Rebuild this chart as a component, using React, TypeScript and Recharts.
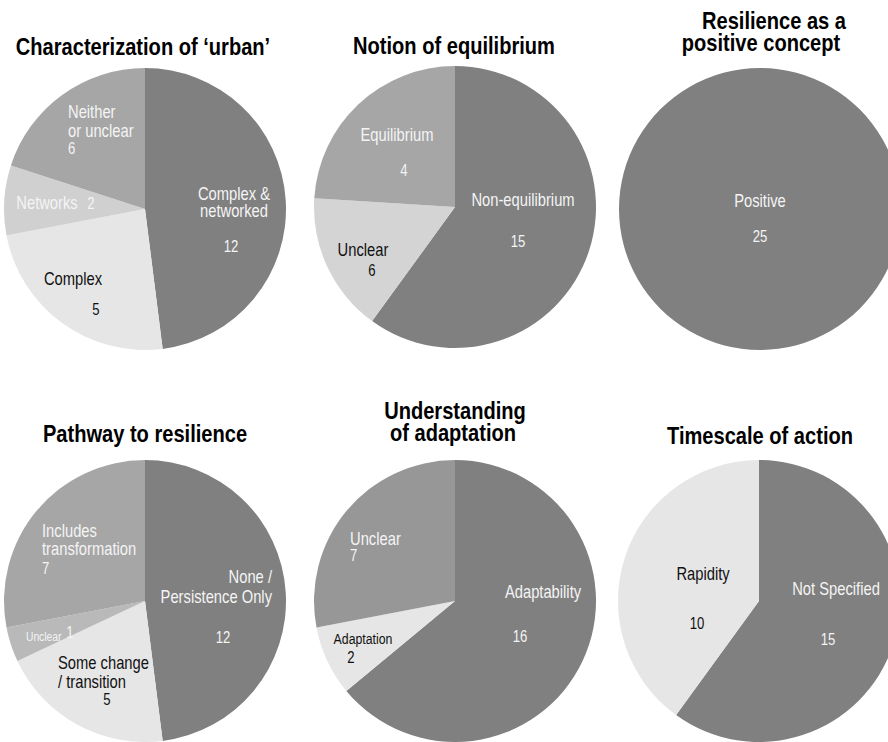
import React from 'react';
import { PieChart, Pie, Cell } from 'recharts';

// ---------- data ----------
// Slice sizes are read from the drawn wedge angles; printed counts are the numbers written on the chart.
const urbanNames = ['Complex &\nnetworked', 'Complex', 'Networks', 'Neither\nor unclear'];
const urbanSlices = [12, 6, 2, 5];
const urbanCounts = [12, 5, 2, 6];

const equilibriumNames = ['Non-equilibrium', 'Unclear', 'Equilibrium'];
const equilibriumSlices = [15, 4, 6];
const equilibriumCounts = [15, 6, 4];

const positiveNames = ['Positive'];
const positiveSlices = [25];
const positiveCounts = [25];

const pathwayNames = ['None /\nPersistence Only', 'Some change\n/ transition', 'Unclear', 'Includes\ntransformation'];
const pathwaySlices = [12, 5, 1, 7];
const pathwayCounts = [12, 5, 1, 7];

const adaptationNames = ['Adaptability', 'Adaptation', 'Unclear'];
const adaptationSlices = [16, 2, 7];
const adaptationCounts = [16, 2, 7];

const timescaleNames = ['Not Specified', 'Rapidity'];
const timescaleSlices = [15, 10];
const timescaleCounts = [15, 10];

const chartTitles = [
  ['Characterization of \u2018urban\u2019'],
  ['Notion of equilibrium'],
  ['Resilience as a', 'positive concept'],
  ['Pathway to resilience'],
  ['Understanding', 'of adaptation'],
  ['Timescale of action'],
];

// ---------- styles ----------
const FONT = "'Liberation Sans', Arial, sans-serif";
const SX = 0.82; // narrow face emulation
const WHITE = '#f4f4f4';
const BLACK = '#111111';
const DARK = '#808080';
const R = 141;

type Anchor = 'start' | 'middle' | 'end';
type LabelLayout = {
  anchor: Anchor;
  dx: number; dy: number; lh?: number; size?: number; color: string;
  vAnchor?: Anchor; vdx: number; vdy: number; vsize?: number;
};

const panels = [
  {
    names: urbanNames, slices: urbanSlices, counts: urbanCounts,
    cx: 145, cy: 209,
    colors: [DARK, '#e6e6e6', '#d0d0d0', '#a6a6a6'],
    titleX: [143], titleY: [55],
    layout: [
      { anchor: 'middle', dx: 89, dy: -9, lh: 17, color: WHITE, vdx: 86, vdy: 43 },
      { anchor: 'middle', dx: -72, dy: 76, color: BLACK, vdx: -49, vdy: 106 },
      { anchor: 'middle', dx: -98, dy: 0, color: WHITE, vdx: -54, vdy: 0 },
      { anchor: 'start', dx: -77, dy: -91, lh: 19, color: WHITE, vAnchor: 'start', vdx: -77, vdy: -55 },
    ] as LabelLayout[],
  },
  {
    names: equilibriumNames, slices: equilibriumSlices, counts: equilibriumCounts,
    cx: 455, cy: 207,
    colors: [DARK, '#d4d4d4', '#a6a6a6'],
    titleX: [454], titleY: [54],
    layout: [
      { anchor: 'middle', dx: 68, dy: -1, color: WHITE, vdx: 63, vdy: 40 },
      { anchor: 'middle', dx: -92, dy: 49, color: BLACK, vdx: -83, vdy: 69 },
      { anchor: 'middle', dx: -58, dy: -66, color: WHITE, vdx: -51, vdy: -31 },
    ] as LabelLayout[],
  },
  {
    names: positiveNames, slices: positiveSlices, counts: positiveCounts,
    cx: 760, cy: 209,
    colors: [DARK],
    titleX: [774, 761], titleY: [29, 51],
    layout: [
      { anchor: 'middle', dx: 0, dy: -2, color: WHITE, vdx: 0, vdy: 33 },
    ] as LabelLayout[],
  },
  {
    names: pathwayNames, slices: pathwaySlices, counts: pathwayCounts,
    cx: 145, cy: 601,
    colors: [DARK, '#e6e6e6', '#b9b9b9', '#a6a6a6'],
    titleX: [145], titleY: [442],
    layout: [
      { anchor: 'end', dx: 127, dy: -18, lh: 20, color: WHITE, vdx: 78, vdy: 42 },
      { anchor: 'start', dx: -87, dy: 68, lh: 19, color: BLACK, vdx: -38, vdy: 104 },
      { anchor: 'start', dx: -119, dy: 40, size: 12.5, color: WHITE, vdx: -75, vdy: 37 },
      { anchor: 'start', dx: -103, dy: -64, lh: 18, color: WHITE, vAnchor: 'start', vdx: -103, vdy: -27 },
    ] as LabelLayout[],
  },
  {
    names: adaptationNames, slices: adaptationSlices, counts: adaptationCounts,
    cx: 455, cy: 601,
    colors: [DARK, '#e6e6e6', '#979797'],
    titleX: [455, 453], titleY: [419, 441],
    layout: [
      { anchor: 'middle', dx: 88, dy: -3, color: WHITE, vdx: 65, vdy: 41 },
      { anchor: 'middle', dx: -92, dy: 43, size: 15, color: BLACK, vdx: -104, vdy: 62 },
      { anchor: 'start', dx: -105, dy: -56, color: WHITE, vAnchor: 'start', vdx: -105, vdy: -40 },
    ] as LabelLayout[],
  },
  {
    names: timescaleNames, slices: timescaleSlices, counts: timescaleCounts,
    cx: 759, cy: 601,
    colors: [DARK, '#e6e6e6'],
    titleX: [760], titleY: [444],
    layout: [
      { anchor: 'middle', dx: 77, dy: -6, color: WHITE, vdx: 69, vdy: 44 },
      { anchor: 'middle', dx: -56, dy: -21, color: BLACK, vdx: -62, vdy: 28 },
    ] as LabelLayout[],
  },
];

const BOX = 300;

function NarrowText(props: { x: number; y: number; anchor: Anchor; size: number; color: string; bold?: boolean; children: React.ReactNode }) {
  const { x, y, anchor, size, color, bold, children } = props;
  return (
    <text x={0} y={0} transform={`translate(${x},${y}) scale(${SX},1)`} textAnchor={anchor}
      fontSize={size} fill={color} fontFamily={FONT} fontWeight={bold ? 'bold' : 'normal'}>
      {children}
    </text>
  );
}

function makeLabel(layout: LabelLayout[]) {
  return (props: any) => {
    const { cx, cy, index, payload } = props;
    const l = layout[index];
    if (!l) return null;
    const name: string = payload?.name ?? props.name;
    const count = payload?.count;
    const lines = String(name).split('\n');
    const size = l.size ?? 18;
    const lh = l.lh ?? 19;
    return (
      <g key={`lbl-${index}`}>
        {lines.map((t, i) => (
          <NarrowText key={i} x={cx + l.dx} y={cy + l.dy + i * lh} anchor={l.anchor} size={size} color={l.color}>{t}</NarrowText>
        ))}
        <NarrowText x={cx + l.vdx} y={cy + l.vdy} anchor={l.vAnchor ?? 'middle'} size={l.vsize ?? 16} color={l.color}>{count}</NarrowText>
      </g>
    );
  };
}

export default function App() {
  return (
    <div style={{ position: 'absolute', left: 0, top: 0, width: 888, height: 742, overflow: 'hidden', background: '#ffffff' }}>
      {panels.map((p, pi) => {
        const data = p.names.map((n, i) => ({ name: n, value: p.slices[i], count: p.counts[i] }));
        return (
          <div key={pi} style={{ position: 'absolute', left: p.cx - BOX / 2, top: p.cy - BOX / 2, width: BOX, height: BOX }}>
            <PieChart width={BOX} height={BOX} margin={{ top: 0, right: 0, bottom: 0, left: 0 }}>
              <Pie data={data} dataKey="value" nameKey="name" cx={BOX / 2} cy={BOX / 2}
                outerRadius={R} innerRadius={0} startAngle={90} endAngle={-270}
                stroke="none" isAnimationActive={false} labelLine={false}
                label={makeLabel(p.layout)}>
                {data.map((d, i) => (
                  <Cell key={i} fill={p.colors[i]} stroke="none" />
                ))}
              </Pie>
            </PieChart>
          </div>
        );
      })}
      <svg width={888} height={742} style={{ position: 'absolute', left: 0, top: 0, pointerEvents: 'none' }}>
        {panels.map((p, pi) =>
          chartTitles[pi].map((t, li) => (
            <NarrowText key={`${pi}-${li}`} x={p.titleX[li]} y={p.titleY[li]} anchor="middle" size={24.5} color="#000" bold>{t}</NarrowText>
          ))
        )}
      </svg>
    </div>
  );
}
